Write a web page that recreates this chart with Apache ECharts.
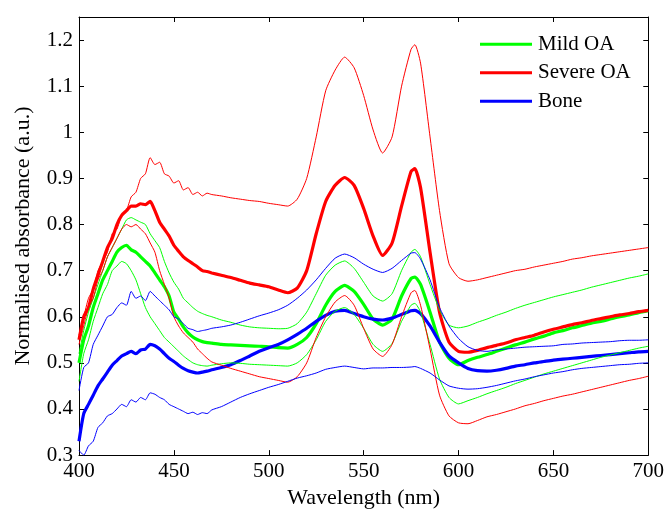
<!DOCTYPE html>
<html>
<head>
<meta charset="utf-8">
<title>Normalised absorbance spectra</title>
<script src="https://cdn.jsdelivr.net/npm/echarts@6/dist/echarts.min.js"></script>
<style>
  html, body { margin: 0; padding: 0; background: #fff; }
  #chart { width: 667px; height: 514px; }
</style>
</head>
<body>
<div id="chart"></div>
<script>
// Wavelength samples (nm): finer steps over the noisy Soret region
const wavelengths = [
  400, 402.5, 405, 407.5, 410, 412.5, 415, 417.5, 420, 422.5, 425, 427.5, 430, 432.5, 435, 437.5,
  440, 442.5, 445, 447.5, 450, 452.5, 455, 457.5, 460, 462.5, 465, 467.5, 470,
  475, 480, 485, 490, 495, 500, 505, 510, 515, 520, 525, 530, 535, 540, 545, 550, 555, 560,
  565, 570, 575, 577, 580, 585, 590, 595, 600, 605, 610, 615, 620, 625, 630, 635, 640, 645,
  650, 655, 660, 665, 670, 675, 680, 685, 690, 695, 700
];

// Mild OA: mean and mean ± SD
const mildMean = [
  0.50, 0.55, 0.58, 0.62, 0.65, 0.68, 0.70, 0.72, 0.74, 0.75, 0.755, 0.745, 0.74, 0.73, 0.72, 0.71,
  0.695, 0.68, 0.665, 0.645, 0.61, 0.595, 0.578, 0.565, 0.556, 0.55, 0.546, 0.544, 0.543,
  0.54, 0.539, 0.538, 0.537, 0.536, 0.535, 0.533, 0.532, 0.54, 0.555, 0.585, 0.625, 0.655, 0.668, 0.655, 0.627, 0.595, 0.582,
  0.595, 0.645, 0.683, 0.686, 0.67, 0.61, 0.545, 0.51, 0.496, 0.505, 0.512, 0.518, 0.525, 0.532, 0.539, 0.545, 0.552, 0.558,
  0.565, 0.57, 0.576, 0.581, 0.586, 0.59, 0.595, 0.60, 0.604, 0.609, 0.613
];
const mildUpper = [
  0.52, 0.57, 0.61, 0.64, 0.67, 0.70, 0.73, 0.75, 0.77, 0.79, 0.81, 0.815, 0.81, 0.805, 0.80, 0.78,
  0.765, 0.75, 0.72, 0.695, 0.675, 0.66, 0.64, 0.63, 0.62, 0.612, 0.607, 0.603, 0.60,
  0.593, 0.588, 0.582, 0.578, 0.576, 0.575, 0.574, 0.575, 0.585, 0.61, 0.65, 0.69, 0.712, 0.721, 0.705, 0.675, 0.645, 0.634,
  0.65, 0.70, 0.74, 0.746, 0.73, 0.67, 0.615, 0.582, 0.576, 0.58, 0.588, 0.595, 0.603, 0.61, 0.618, 0.625, 0.631, 0.637,
  0.643, 0.648, 0.653, 0.658, 0.664, 0.669, 0.674, 0.679, 0.684, 0.688, 0.693
];
const mildLower = [
  0.46, 0.52, 0.55, 0.59, 0.62, 0.65, 0.67, 0.70, 0.71, 0.72, 0.715, 0.70, 0.68, 0.65, 0.62, 0.60,
  0.585, 0.57, 0.555, 0.545, 0.535, 0.525, 0.515, 0.507, 0.50, 0.496, 0.494, 0.493, 0.495,
  0.498, 0.50, 0.499, 0.497, 0.496, 0.495, 0.494, 0.493, 0.50, 0.518, 0.55, 0.59, 0.612, 0.62, 0.605, 0.575, 0.54, 0.525,
  0.542, 0.59, 0.625, 0.629, 0.61, 0.54, 0.465, 0.425, 0.411, 0.418, 0.425, 0.433, 0.44, 0.447, 0.455, 0.462, 0.469, 0.476,
  0.482, 0.488, 0.494, 0.50, 0.506, 0.512, 0.517, 0.522, 0.527, 0.532, 0.536
];

// Severe OA: mean and mean ± SD
const severeMean = [
  0.55, 0.60, 0.62, 0.66, 0.69, 0.72, 0.75, 0.77, 0.80, 0.82, 0.83, 0.84, 0.84, 0.845, 0.843, 0.85,
  0.83, 0.805, 0.79, 0.775, 0.755, 0.742, 0.73, 0.722, 0.715, 0.708, 0.70, 0.698, 0.695,
  0.69, 0.685, 0.679, 0.673, 0.669, 0.665, 0.658, 0.652, 0.662, 0.70, 0.78, 0.85, 0.885, 0.902, 0.885, 0.835, 0.775, 0.733,
  0.76, 0.84, 0.915, 0.921, 0.88, 0.74, 0.61, 0.545, 0.525, 0.523, 0.527, 0.533, 0.538, 0.543, 0.55, 0.555, 0.56, 0.567,
  0.573, 0.578, 0.583, 0.587, 0.592, 0.596, 0.60, 0.604, 0.607, 0.611, 0.614
];
const severeUpper = [
  0.56, 0.60, 0.64, 0.66, 0.70, 0.72, 0.74, 0.78, 0.79, 0.82, 0.83, 0.86, 0.87, 0.90, 0.91, 0.945,
  0.93, 0.935, 0.91, 0.905, 0.89, 0.895, 0.875, 0.88, 0.865, 0.87, 0.862, 0.868, 0.865,
  0.862, 0.858, 0.855, 0.852, 0.85, 0.846, 0.843, 0.84, 0.855, 0.90, 0.99, 1.09, 1.135, 1.163, 1.14, 1.08, 1.005, 0.955,
  0.99, 1.10, 1.18, 1.19, 1.15, 0.99, 0.83, 0.715, 0.685, 0.677, 0.68, 0.685, 0.69, 0.695, 0.70, 0.703, 0.708, 0.712,
  0.716, 0.72, 0.725, 0.728, 0.732, 0.735, 0.738, 0.741, 0.744, 0.747, 0.75
];
const severeLower = [
  0.54, 0.58, 0.62, 0.64, 0.68, 0.70, 0.73, 0.75, 0.77, 0.79, 0.80, 0.795, 0.80, 0.79, 0.78, 0.76,
  0.74, 0.70, 0.67, 0.64, 0.60, 0.58, 0.565, 0.555, 0.545, 0.53, 0.52, 0.51, 0.502,
  0.495, 0.488, 0.482, 0.476, 0.47, 0.466, 0.462, 0.458, 0.47, 0.50, 0.555, 0.60, 0.632, 0.646, 0.625, 0.575, 0.53, 0.514,
  0.54, 0.60, 0.652, 0.657, 0.625, 0.53, 0.43, 0.385, 0.37, 0.368, 0.375, 0.383, 0.388, 0.394, 0.40, 0.407, 0.412, 0.418,
  0.423, 0.428, 0.432, 0.437, 0.442, 0.447, 0.452, 0.457, 0.462, 0.466, 0.471
];

// Bone: mean and mean ± SD
const boneMean = [
  0.33, 0.39, 0.41, 0.43, 0.45, 0.465, 0.48, 0.495, 0.505, 0.515, 0.52, 0.525, 0.52, 0.528, 0.53, 0.54,
  0.537, 0.53, 0.52, 0.51, 0.503, 0.495, 0.488, 0.483, 0.48, 0.478, 0.48, 0.482, 0.485,
  0.49, 0.496, 0.505, 0.515, 0.525, 0.533, 0.54, 0.55, 0.562, 0.575, 0.59, 0.603, 0.612, 0.614, 0.607, 0.60, 0.595, 0.593,
  0.597, 0.605, 0.613, 0.614, 0.607, 0.58, 0.545, 0.515, 0.50, 0.488, 0.483, 0.482, 0.484, 0.488, 0.493, 0.496, 0.50, 0.503,
  0.506, 0.508, 0.51, 0.512, 0.514, 0.516, 0.518, 0.52, 0.522, 0.524, 0.525
];
const boneUpper = [
  0.44, 0.49, 0.50, 0.54, 0.56, 0.58, 0.60, 0.605, 0.62, 0.63, 0.625, 0.655, 0.64, 0.645, 0.635, 0.655,
  0.645, 0.635, 0.625, 0.615, 0.60, 0.595, 0.585, 0.575, 0.572, 0.568, 0.57, 0.572, 0.575,
  0.578, 0.582, 0.588, 0.595, 0.602, 0.608, 0.615, 0.625, 0.64, 0.658, 0.68, 0.705, 0.727, 0.736, 0.728, 0.714, 0.703, 0.696,
  0.705, 0.722, 0.738, 0.739, 0.725, 0.68, 0.62, 0.58, 0.553, 0.535, 0.527, 0.525, 0.528, 0.53, 0.532, 0.534, 0.535, 0.536,
  0.537, 0.54, 0.541, 0.543, 0.544, 0.545, 0.546, 0.548, 0.549, 0.549, 0.55
];
const boneLower = [
  0.31, 0.30, 0.32, 0.33, 0.36, 0.37, 0.385, 0.39, 0.40, 0.41, 0.405, 0.42, 0.415, 0.425, 0.42, 0.435,
  0.432, 0.425, 0.42, 0.41, 0.405, 0.40, 0.395, 0.39, 0.393, 0.388, 0.392, 0.39, 0.398,
  0.405, 0.415, 0.425, 0.433, 0.44, 0.447, 0.453, 0.46, 0.467, 0.472, 0.478, 0.486, 0.49, 0.493, 0.49, 0.487, 0.489, 0.489,
  0.49, 0.49, 0.491, 0.492, 0.488, 0.478, 0.463, 0.45, 0.445, 0.443, 0.444, 0.447, 0.451, 0.456, 0.461, 0.465, 0.47, 0.474,
  0.478, 0.481, 0.485, 0.488, 0.49, 0.492, 0.494, 0.496, 0.497, 0.499, 0.50
];

const xTicks = { min: 400, max: 700, step: 50 };
const yTicks = { min: 0.3, max: 1.25, step: 0.1 };

const GREEN = '#00ff00', RED = '#ff0000', BLUE = '#0000ff';
const FONT = "'Liberation Serif', 'Times New Roman', serif";

function pairs(values) {
  return wavelengths.map((w, i) => [w, values[i]]);
}
function line(name, values, color, width) {
  return {
    name: name,
    type: 'line',
    data: pairs(values),
    showSymbol: false,
    symbol: 'none',
    smooth: 0.2,
    color: color,
    lineStyle: { color: color, width: width },
    emphasis: { disabled: true },
    silent: true,
    clip: true
  };
}

const tickStyle = { inside: true, length: 5, lineStyle: { color: '#000', width: 1 } };
const axisLineStyle = { show: true, lineStyle: { color: '#000', width: 1 } };

const chart = echarts.init(document.getElementById('chart'), null, { renderer: 'canvas' });
chart.setOption({
  animation: false,
  backgroundColor: '#fff',
  grid: { left: 79, right: 18, top: 17, bottom: 54, containLabel: false },
  legend: {
    data: ['Mild OA', 'Severe OA', 'Bone'],
    orient: 'vertical',
    left: 480,
    top: 33,
    padding: 0,
    itemWidth: 52,
    itemHeight: 3,
    itemGap: 6,
    icon: 'rect',
    selectedMode: false,
    textStyle: { fontFamily: FONT, fontSize: 21, color: '#000', lineHeight: 22.5, padding: [0, 0, 0, 1] }
  },
  xAxis: [
    {
      type: 'value', min: xTicks.min, max: xTicks.max, interval: xTicks.step,
      axisLine: axisLineStyle, axisTick: tickStyle, splitLine: { show: false },
      axisLabel: { fontFamily: FONT, fontSize: 21, color: '#000', margin: 6 },
      name: 'Wavelength (nm)', nameLocation: 'middle', nameGap: 27,
      nameTextStyle: { fontFamily: FONT, fontSize: 22, color: '#000' }
    },
    {
      type: 'value', position: 'top', min: xTicks.min, max: xTicks.max, interval: xTicks.step,
      axisLine: axisLineStyle, axisTick: tickStyle, splitLine: { show: false },
      axisLabel: { show: false }
    }
  ],
  yAxis: [
    {
      type: 'value', min: yTicks.min, max: yTicks.max, interval: yTicks.step,
      axisLine: axisLineStyle, axisTick: tickStyle, splitLine: { show: false },
      axisLabel: { fontFamily: FONT, fontSize: 21, color: '#000', margin: 6, showMaxLabel: false },
      name: 'Normalised absorbance (a.u.)', nameLocation: 'middle', nameGap: 45,
      nameTextStyle: { fontFamily: FONT, fontSize: 22, color: '#000' }
    },
    {
      type: 'value', position: 'right', min: yTicks.min, max: yTicks.max, interval: yTicks.step,
      axisLine: axisLineStyle, axisTick: tickStyle, splitLine: { show: false },
      axisLabel: { show: false }
    }
  ],
  series: [
    line('Mild OA', mildMean, GREEN, 3.2),
    line('Severe OA', severeMean, RED, 3.2),
    line('Bone', boneMean, BLUE, 3.2),
    line('Mild OA + SD', mildUpper, GREEN, 1),
    line('Mild OA - SD', mildLower, GREEN, 1),
    line('Severe OA + SD', severeUpper, RED, 1),
    line('Severe OA - SD', severeLower, RED, 1),
    line('Bone + SD', boneUpper, BLUE, 1),
    line('Bone - SD', boneLower, BLUE, 1)
  ]
});
</script>
</body>
</html>
